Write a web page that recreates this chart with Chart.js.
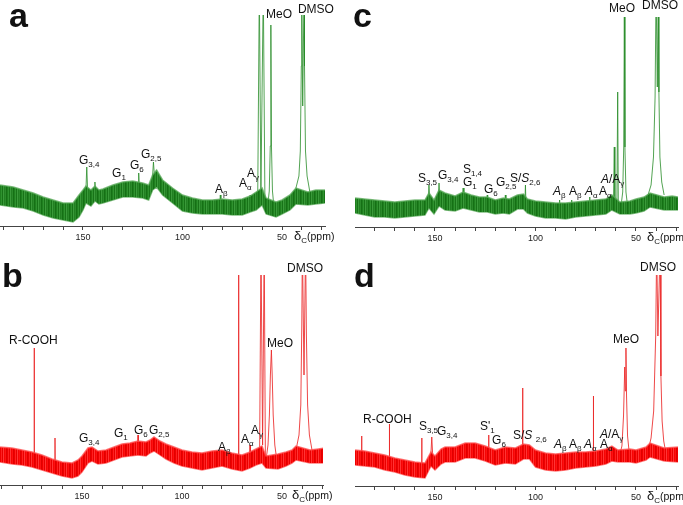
<!DOCTYPE html>
<html><head><meta charset="utf-8">
<script src="https://cdn.jsdelivr.net/npm/chart.js@4/dist/chart.umd.min.js"></script>
<style>
html,body{margin:0;padding:0;background:#fff;}
#wrap{position:relative;width:683px;height:505px;overflow:hidden;}
canvas{position:absolute;}
</style></head>
<body><div id="wrap">
<canvas id="ca" width="341" height="250" style="left:0;top:0"></canvas>
<canvas id="cb" width="341" height="255" style="left:0;top:250px"></canvas>
<canvas id="cc" width="342" height="250" style="left:341px;top:0"></canvas>
<canvas id="cd" width="342" height="255" style="left:341px;top:250px"></canvas>
</div>
<script>
// ---------- DATA (chemical shift in ppm, intensity in arbitrary units) ----------
const tickValues = [30,40,50,60,70,80,90,100,110,120,130,140,150,160,170,180,190];

// Panel a
const bandPpmA = [191.7,185,180,175,170,165,160,155,152,150,148.5,146,144,142,140,135,130,125,120,117,115,113,110,105,100,95,90,85,80,75,70,66,63,60,58,53,50,46,43,37,33,28.4];
const bandHiA  = [41,39,36,33,29,26,23,23,31,36,40,36,40,36,37,41,44,45,43,41,51,56,46,38,31,28,26,26,27,26,27,30,34,38,28,24,26,31,38,34,36,36];
const bandLoA  = [21,19,18,15,11,8,6,4,9,16,23,20,25,22,23,26,29,29,28,26,36,39,31,23,15,13,12,12,12,11,11,14,16,21,12,9,12,16,22,21,22,23];
const peaksA = [[148.6,32],[148.1,59],[147.6,32],null,
 [144.3,32],[144,44],[143.7,32],null,
 [122.3,37],[122,53],[121.7,37],null,
 [115.2,45],[114.6,64],[114,48],null,
 [81.3,20],[81,31],[80.7,20],null,
 [66.3,22],[66,31],[65.7,22],null,
 [62.2,30],[61.4,240],[60.6,34],[59.4,240],[58.6,28],null,
 [57.2,20],[56.4,35],[55.9,80],[55.6,201],[55.3,80],[54.8,35],[54,18],null,
 [43,38],[41.5,50],[40.8,75],[40.3,160],[40.1,240],[39.6,120],[38.9,240],[38.7,160],[38.2,75],[37.4,50],[36,34]];
const annotA = [["G_{3,4}",152.0,62],["G_{1}",135.4,49],["G_{6}",126.4,57],["G_{2,5}",120.9,68],
 ["A_{β}",83.7,33],["A_{α}",71.6,39],["A_{γ}",67.6,49],["MeO",58.0,208],["DMSO",42.0,213]];

// Panel b
const bandPpmB = [191,185,180,175,170,165,160,155,152,150,147,145,142,138,134,130,126,122,118,116,114,111,108,104,100,95,90,85,80,75,70,66,63,60,58,52,48,45,43,36,32,28.5];
const bandHiB  = [38,37,35,33,30,26,23,22,25,29,37,38,34,35,38,41,42,44,43,45,48,44,41,38,35,33,32,34,35,32,30,33,36,39,29,31,33,35,39,35,36,37];
const bandLoB  = [23,21,20,18,15,12,9,7,9,13,22,24,21,22,25,28,29,30,29,32,34,30,26,22,19,17,15,17,19,16,14,17,20,22,17,16,19,22,25,22,22,22];
const peaksB = [[174.0,20],[173.9,137],[173.8,20],null,
 [163.6,12],[163.5,47],[163.4,12],null,
 [122.2,38],[122,50],[121.8,38],null,
 [66.2,25],[66,40],[65.8,25],null,
 [71.8,18],[71.7,240],[71.6,18],null,
 [61.2,30],[60.5,240],[59.7,40],[58.9,240],[58.3,25],null,
 [58,25],[57,40],[56.3,70],[55.8,110],[55.3,135],[54.9,110],[54.4,70],[53.6,40],[52.6,25],null,
 [43,35],[41.5,50],[40.6,80],[40.1,160],[39.8,240],[39,110],[38.2,240],[37.8,150],[37.2,80],[36.3,50],[35,35]];
const annotB = [["R-COOH",186.5,141],["G_{3,4}",151.5,43],["G_{1}",134,48],["G_{6}",124,51],["G_{2,5}",116.5,51],
 ["A_{β}",82,34],["A_{α}",70.5,42],["A_{γ}",65.5,51],["MeO",57.5,138],["DMSO",47.5,213]];

// Panel c
const bandPpmC = [189.8,185,180,175,170,165,160,155,153,150.5,148,145,140,136,132,128,124,120,116,113,109,106,104,100,95,90,85,80,75,70,65,62,58,53,50,46,43,36,32,29];
const bandHiC  = [29,28,27,26,25,26,27,27,34,27,37,34,31,35,32,30,30,27,29,28,32,33,28,26,25,24,24,25,26,27,28,32,25,26,28,30,34,30,31,30];
const bandLoC  = [14,12,10,10,9,10,11,12,19,13,21,17,16,19,17,15,15,13,14,13,18,18,14,11,9,9,8,10,11,12,13,17,13,13,14,16,20,17,17,17];
const peaksC = [[153.5,22],[153,42],[152.4,22],null,
 [148.5,24],[148,44],[147.4,24],null,
 [136.4,22],[136,39],[135.6,22],null,
 [124.2,18],[124,32],[123.8,18],null,
 [115.3,18],[115,32],[114.7,18],null,
 [105.3,22],[105,42],[104.7,20],null,
 [88.2,14],[88,27],[87.8,14],null,
 [82.2,14],[82,27],[81.8,14],null,
 [73.2,16],[73,30],[72.8,16],null,
 [61.2,25],[60.8,80],[60.5,25],null,
 [59.5,25],[59.1,135],[58.8,25],null,
 [57.5,20],[56.6,35],[56.1,80],[55.8,212],[55.5,80],[55,35],[54,18],null,
 [44,32],[42.5,42],[41.3,70],[40.5,130],[40,240],[39.4,140],[38.9,240],[38.6,135],[38.1,70],[37.2,45],[36,32]];
const annotC = [["S_{3,5}",158.5,45],["G_{3,4}",148.5,48],["S_{1,4}",136.1,54],["G_{1}",136.1,41],["G_{6}",125.6,34],
 ["G_{2,5}",119.7,41],["S/*S*_{2,6}",112.7,45],["*A*_{β}",91.3,32],["A_{β}",83.3,32],["*A*_{α}",75.4,32],["A_{α}",68.4,32],
 ["*A*/A_{γ}",67.4,44],["MeO",63.4,215],["DMSO",47.0,218]];

// Panel d
const bandPpmD = [189.8,185,180,175,170,165,160,155,152,150,147,145,140,135,130,125,120,115,110,106,103,100,95,90,85,80,75,70,65,62,59,53,50,45,43,36,29];
const bandHiD  = [36,35,33,31,28,26,24,23,34,30,37,39,39,43,43,40,36,39,38,42,41,36,33,32,33,34,34,35,37,40,36,37,36,39,43,38,39];
const bandLoD  = [21,20,19,16,14,11,9,8,20,16,22,24,24,28,28,25,21,23,22,27,27,19,16,15,16,18,19,20,22,25,24,24,23,26,29,25,24];
const peaksD = [[186.6,28],[186.5,50],[186.4,28],null,
 [172.8,22],[172.7,62],[172.6,22],null,
 [156.7,14],[156.6,48],[156.5,14],null,
 [152.2,25],[151.6,49],[151,25],null,
 [123.4,28],[123.3,51],[123.2,28],null,
 [106.5,30],[106.4,98],[106.3,30],null,
 [71.3,22],[71.2,90],[71.1,22],null,
 [58.5,28],[57,40],[56.2,70],[55.6,119],[55.3,95],[55,138],[54.7,90],[54.2,50],[53.2,30],null,
 [44,35],[42.5,48],[41.2,75],[40.2,150],[39.7,240],[39.1,150],[38,240],[37.6,110],[37,65],[36.2,45],[35.3,35]];
const annotD = [["R-COOH",185.8,63],["S_{3,5}",158,56],["G_{3,4}",149,51],["S'_{1}",127.6,56],["G_{6}",121.6,42],
 ["S/*S* _{2,6}",111.2,47],["*A*_{β}",90.8,38],["A_{β}",83.3,38],["*A*_{α}",75.9,38],["A_{α}",67.9,38],
 ["*A*/A_{γ}",67.9,48],["MeO",61.4,143],["DMSO",48,215]];

// ---------- RENDERING ----------
const FONT = '"Liberation Sans", Arial, Helvetica, sans-serif';
function stripePattern(shades){
  const c=document.createElement('canvas'); c.width=shades.length; c.height=1;
  const g=c.getContext('2d'); shades.forEach((s,i)=>{g.fillStyle=s; g.fillRect(i,0,1,1);});
  return g.createPattern(c,'repeat');
}
const GREEN = {band:stripePattern(['#1f7f1f','#2f922f','#187318','#3a9a3a','#227f22','#2a8a2a','#157015']),
               edge:'rgba(90,170,90,0.75)', peak:'rgba(40,140,40,0.8)'};
const RED = {band:stripePattern(['#f00000','#ff2020','#e80000','#ff3535','#f50505','#ff1010','#e00000']),
             edge:'rgba(255,80,80,0.75)', peak:'rgba(235,40,40,0.85)'};

function pts(ppm, vals){ return ppm.map((p,i)=>({x:p,y:vals[i]})); }
function peakPts(list){
  const out=[]; let last=0;
  list.forEach(p=>{ if(p===null){ out.push({x:last,y:null}); } else { out.push({x:p[0],y:p[1]}); last=p[0]; } });
  return out;
}
function drawRich(ctx, str, x, y, size){
  let i=0, italic=false;
  while(i<str.length){
    const c=str[i];
    if(c==='*'){italic=!italic;i++;continue;}
    if(c==='_' && str[i+1]==='{'){
      const j=str.indexOf('}',i); const sub=str.slice(i+2,j);
      ctx.font=Math.round(size*0.68)+'px '+FONT;
      ctx.fillText(sub,x,y+size*0.28); x+=ctx.measureText(sub).width; i=j+1; continue;
    }
    let j=i; while(j<str.length && str[j]!=='*' && !(str[j]==='_'&&str[j+1]==='{')) j++;
    const t=str.slice(i,j);
    ctx.font=(italic?'italic ':'')+size+'px '+FONT;
    ctx.fillText(t,x,y); x+=ctx.measureText(t).width; i=j;
  }
}
const textPlugin = {
  id:'txt',
  afterDraw(chart){
    const o=chart.options.plugins.txt; const ctx=chart.ctx;
    const xs=chart.scales.x, ys=chart.scales.y, ca=chart.chartArea;
    ctx.save(); ctx.fillStyle='#111'; ctx.textBaseline='alphabetic'; ctx.textAlign='left';
    o.annot.forEach(a=>drawRich(ctx,a[0],xs.getPixelForValue(a[1]),ys.getPixelForValue(a[2]),12));
    let x=ca.right-31, y=ca.bottom+14;
    ctx.font='13px '+FONT; ctx.fillText('δ',x,y); x+=ctx.measureText('δ').width;
    ctx.font='8px '+FONT; ctx.fillText('C',x,y+3); x+=ctx.measureText('C').width;
    ctx.font='10.5px '+FONT; ctx.fillText('(ppm)',x,y);
    ctx.font='bold 34px '+FONT; ctx.fillText(o.letter,o.lx,o.ly);
    ctx.restore();
  }
};

function makePanel(id, cfg){
  new Chart(document.getElementById(id), {
    type:'line',
    data:{datasets:[
      {data:pts(cfg.ppm,cfg.hi), borderColor:cfg.col.edge, borderWidth:1.5, backgroundColor:cfg.col.band, fill:'+1', pointRadius:0, tension:0},
      {data:pts(cfg.ppm,cfg.lo), borderColor:cfg.col.edge, borderWidth:1.5, fill:false, pointRadius:0, tension:0},
      {data:peakPts(cfg.peaks), borderColor:cfg.col.peak, borderWidth:1, fill:false, pointRadius:0, tension:0, spanGaps:false}
    ]},
    options:{
      responsive:false, animation:false, events:[],
      layout:{padding:{left:cfg.pl, right:cfg.pr, top:cfg.pt, bottom:0}},
      plugins:{legend:{display:false}, tooltip:{enabled:false}, txt:{annot:cfg.annot, letter:cfg.letter, lx:cfg.lx, ly:cfg.ly}},
      scales:{
        x:{type:'linear', reverse:true, min:cfg.min, max:cfg.max,
           afterBuildTicks:s=>{ s.ticks = tickValues.filter(v=>v>=cfg.min && v<=cfg.max).map(v=>({value:v})); },
           afterFit:s=>{ s.height = cfg.xh; },
           ticks:{autoSkip:false, maxRotation:0, padding:2, color:'#222', font:{size:9, family:FONT},
                  callback:v=> (v%50===0 ? String(v) : '')},
           grid:{display:true, drawOnChartArea:false, drawTicks:true, tickLength:4, color:'#444'},
           border:{display:true, color:'#444', width:1}},
        y:{display:false, min:0, max:cfg.ymax}
      }
    },
    plugins:[textPlugin]
  });
}

makePanel('ca',{ppm:bandPpmA,hi:bandHiA,lo:bandLoA,peaks:peaksA,annot:annotA,col:GREEN,
  min:28.4,max:191.7,pl:0,pr:16,pt:15,xh:24,ymax:211,letter:'a',lx:9,ly:27});
makePanel('cb',{ppm:bandPpmB,hi:bandHiB,lo:bandLoB,peaks:peaksB,annot:annotB,col:RED,
  min:29.5,max:191,pl:0,pr:18,pt:25,xh:20,ymax:210,letter:'b',lx:2,ly:37});
makePanel('cc',{ppm:bandPpmC,hi:bandHiC,lo:bandLoC,peaks:peaksC,annot:annotC,col:GREEN,
  min:29.1,max:189.8,pl:14,pr:5,pt:17,xh:23,ymax:210,letter:'c',lx:12,ly:27});
makePanel('cd',{ppm:bandPpmD,hi:bandHiD,lo:bandLoD,peaks:peaksD,annot:annotD,col:RED,
  min:29.1,max:189.8,pl:14,pr:5,pt:25,xh:19,ymax:211,letter:'d',lx:13,ly:37});
</script>
</body></html>
